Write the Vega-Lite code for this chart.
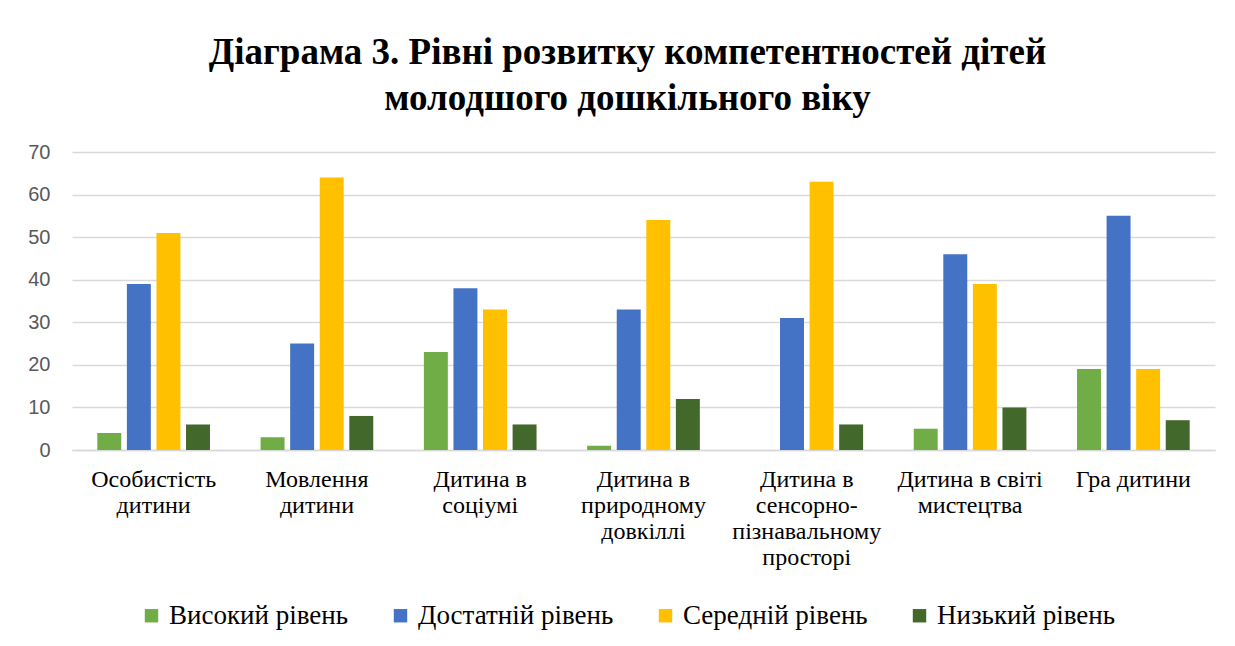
{
  "$schema": "https://vega.github.io/schema/vega-lite/v6.json",
  "width": 1143,
  "height": 298,
  "autosize": {"type": "none"},
  "padding": {"left": 72, "top": 152, "right": 20, "bottom": 196},
  "background": "white",
  "title": {
    "text": ["Діаграма 3. Рівні розвитку компетентностей дітей", "молодшого дошкільного віку"],
    "font": "'Liberation Serif', 'Times New Roman', serif",
    "fontSize": 37,
    "fontWeight": "bold",
    "color": "#000000",
    "anchor": "middle",
    "frame": "group",
    "dx": -16,
    "offset": 24,
    "lineHeight": 46
  },
  "data": {
    "values": [
      {"category": "Особистість|дитини", "level": "Високий рівень", "value": 4},
      {"category": "Особистість|дитини", "level": "Достатній рівень", "value": 39},
      {"category": "Особистість|дитини", "level": "Середній рівень", "value": 51},
      {"category": "Особистість|дитини", "level": "Низький рівень", "value": 6},
      {"category": "Мовлення|дитини", "level": "Високий рівень", "value": 3},
      {"category": "Мовлення|дитини", "level": "Достатній рівень", "value": 25},
      {"category": "Мовлення|дитини", "level": "Середній рівень", "value": 64},
      {"category": "Мовлення|дитини", "level": "Низький рівень", "value": 8},
      {"category": "Дитина в|соціумі", "level": "Високий рівень", "value": 23},
      {"category": "Дитина в|соціумі", "level": "Достатній рівень", "value": 38},
      {"category": "Дитина в|соціумі", "level": "Середній рівень", "value": 33},
      {"category": "Дитина в|соціумі", "level": "Низький рівень", "value": 6},
      {"category": "Дитина в|природному|довкіллі", "level": "Високий рівень", "value": 1},
      {"category": "Дитина в|природному|довкіллі", "level": "Достатній рівень", "value": 33},
      {"category": "Дитина в|природному|довкіллі", "level": "Середній рівень", "value": 54},
      {"category": "Дитина в|природному|довкіллі", "level": "Низький рівень", "value": 12},
      {"category": "Дитина в|сенсорно-|пізнавальному|просторі", "level": "Високий рівень", "value": 0},
      {"category": "Дитина в|сенсорно-|пізнавальному|просторі", "level": "Достатній рівень", "value": 31},
      {"category": "Дитина в|сенсорно-|пізнавальному|просторі", "level": "Середній рівень", "value": 63},
      {"category": "Дитина в|сенсорно-|пізнавальному|просторі", "level": "Низький рівень", "value": 6},
      {"category": "Дитина в світі|мистецтва", "level": "Високий рівень", "value": 5},
      {"category": "Дитина в світі|мистецтва", "level": "Достатній рівень", "value": 46},
      {"category": "Дитина в світі|мистецтва", "level": "Середній рівень", "value": 39},
      {"category": "Дитина в світі|мистецтва", "level": "Низький рівень", "value": 10},
      {"category": "Гра дитини", "level": "Високий рівень", "value": 19},
      {"category": "Гра дитини", "level": "Достатній рівень", "value": 55},
      {"category": "Гра дитини", "level": "Середній рівень", "value": 19},
      {"category": "Гра дитини", "level": "Низький рівень", "value": 7}
    ]
  },
  "mark": {"type": "bar"},
  "encoding": {
    "x": {
      "field": "category",
      "type": "nominal",
      "sort": null,
      "scale": {"paddingInner": 0.31, "paddingOuter": 0.155},
      "axis": {
        "title": null,
        "labelAngle": 0,
        "labelExpr": "split(datum.label, '|')",
        "labelFont": "'Liberation Serif', 'Times New Roman', serif",
        "labelFontSize": 24,
        "labelLineHeight": 26,
        "labelColor": "#000000",
        "labelBaseline": "top",
        "labelPadding": 17,
        "labelLimit": 300,
        "ticks": false,
        "domainColor": "#d9d9d9",
        "domainWidth": 1.5
      }
    },
    "xOffset": {
      "field": "level",
      "type": "nominal",
      "sort": ["Високий рівень", "Достатній рівень", "Середній рівень", "Низький рівень"],
      "scale": {"paddingInner": 0.19}
    },
    "y": {
      "field": "value",
      "type": "quantitative",
      "scale": {"domain": [0, 70]},
      "axis": {
        "title": null,
        "values": [0, 10, 20, 30, 40, 50, 60, 70],
        "domain": false,
        "ticks": false,
        "gridColor": "#d9d9d9",
        "gridWidth": 1.5,
        "labelFont": "'Liberation Sans', Arial, sans-serif",
        "labelFontSize": 20,
        "labelColor": "#595959",
        "labelPadding": 22
      }
    },
    "color": {
      "field": "level",
      "type": "nominal",
      "sort": ["Високий рівень", "Достатній рівень", "Середній рівень", "Низький рівень"],
      "scale": {
        "domain": ["Високий рівень", "Достатній рівень", "Середній рівень", "Низький рівень"],
        "range": ["#70AD47", "#4472C4", "#FFC000", "#43682B"]
      },
      "legend": {
        "title": null,
        "orient": "none",
        "direction": "horizontal",
        "legendX": 66,
        "legendY": 450,
        "symbolType": "square",
        "symbolSize": 180,
        "symbolStrokeWidth": 0,
        "labelFont": "'Liberation Serif', 'Times New Roman', serif",
        "labelFontSize": 27,
        "labelColor": "#000000",
        "labelOffset": 4,
        "columnPadding": 38,
        "labelLimit": 400
      }
    }
  },
  "config": {
    "view": {"stroke": null}
  }
}
